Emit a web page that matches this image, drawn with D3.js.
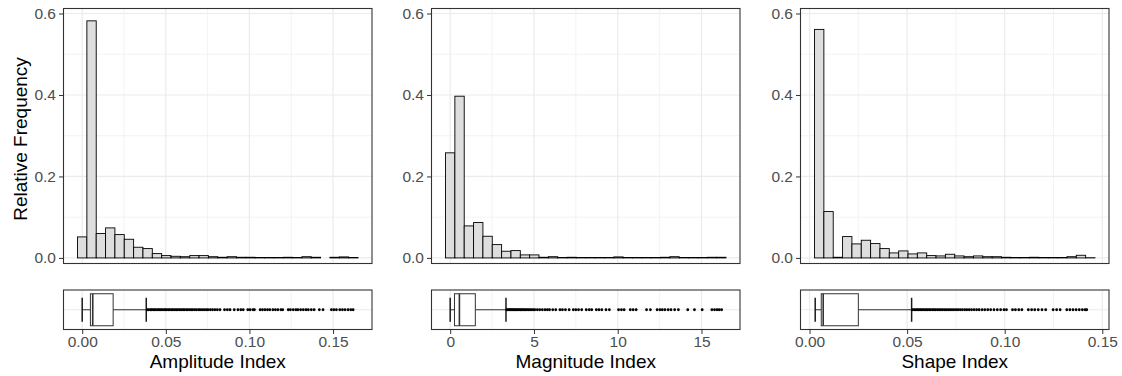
<!DOCTYPE html>
<html>
<head>
<meta charset="utf-8">
<script src="https://cdn.jsdelivr.net/npm/d3@7"></script>
<style>
  body { margin: 0; background: #fff; }
  svg text { font-family: "Liberation Sans", Arial, sans-serif; }
</style>
</head>
<body>
<div id="chart"></div>
<script>
// ---- relative frequencies, 30 bins each ----
const ampFreq = [0.0516,0.582,0.0598,0.0737,0.0573,0.0458,0.0262,0.0229,0.0106,0.0057,0.004,0.003,0.0057,0.0057,0.003,0.0016,0.003,0.0016,0.0016,0.001,0.001,0.001,0.0016,0.001,0.003,0.0016,0,0.0016,0.0025,0.001];
const magFreq = [0.258,0.397,0.0786,0.0868,0.0532,0.0327,0.0164,0.018,0.0074,0.0074,0.0016,0.003,0.001,0.0016,0.001,0.001,0.001,0.001,0.0025,0.001,0.001,0.001,0.001,0.0016,0.003,0.001,0.001,0.001,0.0016,0.0016];
const shpFreq = [0.561,0.1138,0.0016,0.0524,0.0344,0.0434,0.0352,0.0229,0.0123,0.0172,0.0098,0.0123,0.0057,0.0049,0.009,0.0049,0.003,0.0049,0.003,0.003,0.0016,0.001,0.001,0.0016,0.001,0.001,0.001,0.003,0.0065,0.0005];

// bin edges: [first bin left edge, bin width]
const ampBins = [-0.0028, 0.00559];
const magBins = [-0.279, 0.558];
const shpBins = [0.00255, 0.00479];

// box stats: [lower whisker, Q1, median, Q3, upper whisker]
const ampStats = [0, 0.0049, 0.0063, 0.0185, 0.0383];
const magStats = [0, 0.256, 0.55, 1.50, 3.33];
const shpStats = [0.0029, 0.006, 0.007, 0.025, 0.0523];

// outliers
const ampOut = [0.0389,0.0397,0.0408,0.0415,0.0424,0.0433,0.0441,0.0452,0.0460,0.0469,0.0478,0.0489,0.0497,0.0506,0.0516,0.0524,0.0535,0.0543,0.0554,0.0563,0.0572,0.0583,0.0592,0.0603,0.0611,0.0622,0.0631,0.0642,0.0652,0.0661,0.0673,0.0684,0.0696,0.0705,0.0717,0.0729,0.0741,0.0752,0.0766,0.0779,0.0793,0.0808,0.0824,0.0851,0.0868,0.0884,0.0909,0.0931,0.0948,0.0963,0.0990,0.1004,0.1021,0.1030,0.1064,0.1078,0.1093,0.1108,0.1122,0.1140,0.1155,0.1170,0.1188,0.1199,0.1232,0.1245,0.1262,0.1278,0.1290,0.1306,0.1322,0.1338,0.1352,0.1370,0.1387,0.1418,0.1440,0.1490,0.1505,0.1520,0.1540,0.1556,0.1572,0.1590,0.1606,0.1620];
const magOut = [3.38,3.44,3.51,3.57,3.63,3.70,3.76,3.83,3.90,3.97,4.04,4.11,4.19,4.26,4.34,4.42,4.50,4.58,4.67,4.76,4.85,4.95,5.05,5.20,5.34,5.50,5.66,5.80,5.93,6.12,6.30,6.55,6.70,6.88,7.10,7.35,7.50,7.66,7.85,8.12,8.30,8.45,8.72,8.88,9.05,9.30,9.50,10.05,10.22,10.38,10.75,10.92,11.10,11.72,11.95,12.35,12.52,12.66,12.82,13.01,13.18,13.40,13.62,14.18,14.58,15.04,15.62,15.78,15.93,16.06,16.20];
const shpOut = [0.0528,0.0536,0.0543,0.0551,0.0558,0.0566,0.0573,0.0581,0.0589,0.0597,0.0605,0.0613,0.0621,0.0630,0.0638,0.0646,0.0655,0.0664,0.0673,0.0682,0.0691,0.0700,0.0710,0.0720,0.0730,0.0740,0.0751,0.0761,0.0772,0.0783,0.0795,0.0806,0.0818,0.0830,0.0843,0.0856,0.0869,0.0884,0.0898,0.0913,0.0928,0.0945,0.0962,0.0979,0.0996,0.1009,0.1040,0.1055,0.1072,0.1088,0.1121,0.1138,0.1154,0.1172,0.1191,0.1210,0.1248,0.1266,0.1284,0.1318,0.1334,0.1350,0.1366,0.1382,0.1398,0.1412,0.1420];

// ticks
const ampTicks = [0, 0.05, 0.10, 0.15];
const magTicks = [0, 5, 10, 15];
const shpTicks = [0, 0.05, 0.10, 0.15];
const yTicks = [0, 0.2, 0.4, 0.6];

const titles = ["Amplitude Index", "Magnitude Index", "Shape Index"];

// ==== Setup ====
const W = 1122, H = 376;
const svg = d3.select("#chart").append("svg")
  .attr("width", W).attr("height", H);

const histTop = 8.5, histBot = 263.5;
const boxTop = 290, boxBot = 329.5;
const panelW = 308.5;
const lefts = [63.5, 431.5, 800.5];

const y = d3.scaleLinear().domain([-0.0137, 0.6123]).range([histBot, histTop]);

const grid = "#EBEBEB", border = "#333333", tickCol = "#4D4D4D";

function drawPanel(i, freq, bins, stats, outl, ticks, fmt) {
  const x0 = lefts[i], x1 = x0 + panelW;
  const lo = bins[0], hi = bins[0] + bins[1] * freq.length;
  const pad = (hi - lo) * 0.05;
  const x = d3.scaleLinear().domain([lo - pad, hi + pad]).range([x0, x1]);
  const step = ticks[1] - ticks[0];
  const minor = ticks.map(t => t + step / 2).filter(t => x(t) < x1);

  // ---- histogram panel ----
  const g = svg.append("g");
  g.append("rect").attr("x", x0).attr("y", histTop).attr("width", panelW)
    .attr("height", histBot - histTop).attr("fill", "#fff");
  g.selectAll(".vmin").data(minor).join("line")
    .attr("x1", d => x(d)).attr("x2", d => x(d)).attr("y1", histTop).attr("y2", histBot)
    .attr("stroke", grid).attr("stroke-width", 0.6);
  g.selectAll(".hmin").data([0.1, 0.3, 0.5]).join("line")
    .attr("x1", x0).attr("x2", x1).attr("y1", d => y(d)).attr("y2", d => y(d))
    .attr("stroke", grid).attr("stroke-width", 0.6);
  g.selectAll(".vmaj").data(ticks).join("line")
    .attr("x1", d => x(d)).attr("x2", d => x(d)).attr("y1", histTop).attr("y2", histBot)
    .attr("stroke", grid).attr("stroke-width", 1.2);
  g.selectAll(".hmaj").data(yTicks).join("line")
    .attr("x1", x0).attr("x2", x1).attr("y1", d => y(d)).attr("y2", d => y(d))
    .attr("stroke", grid).attr("stroke-width", 1.2);

  g.selectAll(".bar").data(freq).join("rect")
    .attr("x", (d, k) => x(bins[0] + k * bins[1]))
    .attr("width", x(bins[0] + bins[1]) - x(bins[0]))
    .attr("y", d => y(d))
    .attr("height", d => y(0) - y(d))
    .attr("fill", "#DEDEDE").attr("stroke", "#000").attr("stroke-width", 0.9);

  g.append("rect").attr("x", x0).attr("y", histTop).attr("width", panelW)
    .attr("height", histBot - histTop).attr("fill", "none")
    .attr("stroke", border).attr("stroke-width", 1.1);

  const yAxis = d3.axisLeft(y).tickValues(yTicks).tickFormat(d3.format(".1f"))
    .tickSize(4.5).tickPadding(3);
  const ya = svg.append("g").attr("transform", `translate(${x0},0)`).call(yAxis);
  ya.select(".domain").remove();
  ya.selectAll("line").attr("stroke", border);
  ya.selectAll("text").attr("fill", tickCol).attr("font-size", 15.5);

  // ---- boxplot panel ----
  const yc = (boxTop + boxBot) / 2;
  const b = svg.append("g");
  b.append("rect").attr("x", x0).attr("y", boxTop).attr("width", panelW)
    .attr("height", boxBot - boxTop).attr("fill", "#fff");
  b.selectAll(".vmin").data(minor).join("line")
    .attr("x1", d => x(d)).attr("x2", d => x(d)).attr("y1", boxTop).attr("y2", boxBot)
    .attr("stroke", grid).attr("stroke-width", 0.6);
  b.selectAll(".vmaj").data(ticks).join("line")
    .attr("x1", d => x(d)).attr("x2", d => x(d)).attr("y1", boxTop).attr("y2", boxBot)
    .attr("stroke", grid).attr("stroke-width", 1.2);
  b.append("line").attr("x1", x0).attr("x2", x1).attr("y1", yc).attr("y2", yc)
    .attr("stroke", grid).attr("stroke-width", 1.2);

  const [wl, q1, med, q3, wh] = stats;
  // whiskers
  b.selectAll(".wh").data([[wl, q1], [q3, wh]]).join("line")
    .attr("x1", d => x(d[0])).attr("x2", d => x(d[1])).attr("y1", yc).attr("y2", yc)
    .attr("stroke", border).attr("stroke-width", 1);
  // error bar caps
  b.selectAll(".cap").data([wl, wh]).join("line")
    .attr("x1", d => x(d)).attr("x2", d => x(d)).attr("y1", yc - 12).attr("y2", yc + 12)
    .attr("stroke", "#1a1a1a").attr("stroke-width", 1.5);
  // box
  b.append("rect").attr("x", x(q1)).attr("y", yc - 16).attr("width", x(q3) - x(q1))
    .attr("height", 32).attr("fill", "#fff").attr("stroke", border).attr("stroke-width", 1);
  b.append("line").attr("x1", x(med)).attr("x2", x(med)).attr("y1", yc - 16).attr("y2", yc + 16)
    .attr("stroke", border).attr("stroke-width", 1.6);
  // outliers
  b.selectAll(".out").data(outl).join("circle")
    .attr("cx", d => x(d)).attr("cy", yc).attr("r", 1.4).attr("fill", "#000");

  b.append("rect").attr("x", x0).attr("y", boxTop).attr("width", panelW)
    .attr("height", boxBot - boxTop).attr("fill", "none")
    .attr("stroke", border).attr("stroke-width", 1.1);

  const xAxis = d3.axisBottom(x).tickValues(ticks).tickFormat(fmt).tickSize(4.5).tickPadding(2);
  const xa = svg.append("g").attr("transform", `translate(0,${boxBot})`).call(xAxis);
  xa.select(".domain").remove();
  xa.selectAll("line").attr("stroke", border);
  xa.selectAll("text").attr("fill", tickCol).attr("font-size", 15.5);

  svg.append("text").attr("x", (x0 + x1) / 2).attr("y", 368)
    .attr("text-anchor", "middle").attr("font-size", 19).attr("fill", "#000")
    .text(titles[i]);
}

drawPanel(0, ampFreq, ampBins, ampStats, ampOut, ampTicks, d3.format(".2f"));
drawPanel(1, magFreq, magBins, magStats, magOut, magTicks, d3.format("d"));
drawPanel(2, shpFreq, shpBins, shpStats, shpOut, shpTicks, d3.format(".2f"));

svg.append("text")
  .attr("transform", `translate(27,139) rotate(-90)`)
  .attr("text-anchor", "middle").attr("font-size", 19).attr("fill", "#000")
  .text("Relative Frequency");
</script>
</body>
</html>
